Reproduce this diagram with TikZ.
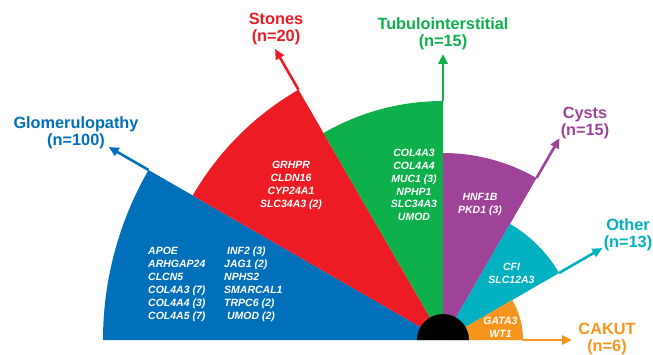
\documentclass[tikz,border=0pt]{standalone}
\usepackage{fontspec}
\setmainfont{Liberation Sans}
\usetikzlibrary{arrows.meta,calc}
\definecolor{cglom}{HTML}{0070BA}
\definecolor{cstone}{HTML}{ED1C24}
\definecolor{ctub}{HTML}{0DB04B}
\definecolor{ccyst}{HTML}{9E4398}
\definecolor{cother}{HTML}{00B1C1}
\definecolor{ccakut}{HTML}{F7941E}
\begin{document}
\begin{tikzpicture}[x=1pt,y=1pt,
  arr/.style={line width=2.6pt,-{Triangle[length=10pt,width=9pt]}},
  cat/.style={font=\fontsize{16.3}{17}\selectfont\bfseries,align=center,inner sep=0pt},
  genes/.style={font=\fontsize{10.5}{12.9}\selectfont\bfseries\itshape,text=white,inner sep=0pt}]
\useasboundingbox (0,0) rectangle (653,354);
\coordinate (C) at (443,14);
% sectors
\fill[cglom]  (C) -- ($(C)+(180:340pt)$) arc[start angle=180,end angle=150,radius=340pt] -- cycle;
\fill[cstone] (C) -- ($(C)+(150:289pt)$) arc[start angle=150,end angle=120,radius=289pt] -- cycle;
\fill[ctub]   (C) -- ($(C)+(120:239pt)$) arc[start angle=120,end angle=90,radius=239pt] -- cycle;
\fill[ccyst]  (C) -- ($(C)+(90:187pt)$) arc[start angle=90,end angle=60,radius=187pt] -- cycle;
\fill[cother] (C) -- ($(C)+(60:134pt)$) arc[start angle=60,end angle=30,radius=134pt] -- cycle;
\fill[ccakut] (C) -- ($(C)+(30:80pt)$) arc[start angle=30,end angle=0,radius=80pt] -- cycle;
\fill[black]  ($(C)+(0:26pt)$) arc[start angle=0,end angle=180,radius=26pt] -- cycle;
% corners and tips
\coordinate (gE) at ($(C)+(150:340pt)$); \coordinate (gT) at ($(C)+(150:386pt)$);
\coordinate (sE) at ($(C)+(120:289pt)$); \coordinate (sT) at ($(C)+(120:336pt)$);
\coordinate (tE) at ($(C)+(90:239pt)$);  \coordinate (tT) at ($(C)+(90:286pt)$);
\coordinate (cE) at ($(C)+(60:187pt)$);  \coordinate (cT) at ($(C)+(60:233pt)$);
\coordinate (oE) at ($(C)+(30:134pt)$);  \coordinate (oT) at ($(C)+(30:184pt)$);
\coordinate (kE) at ($(C)+(0:79pt)$);    \coordinate (kT) at ($(C)+(0:129pt)$);
\draw[arr,cglom]  (gE) -- (gT);
\draw[arr,cstone] (sE) -- (sT);
\draw[arr,ctub]   (tE) -- (tT);
\draw[arr,ccyst]  (cE) -- (cT);
\draw[arr,cother] (oE) -- (oT);
\draw[arr,ccakut] (kE) -- (kT);
% category labels
\node[cat,text=cglom]  (lg) at (76,221)  {Glomerulopathy\\(n=100)};
\node[cat,text=cstone] (ls) at (276,325) {Stones\\(n=20)};
\node[cat,text=ctub]   (lt) at (443,320) {Tubulointerstitial\\(n=15)};
\node[cat,text=ccyst]  (lc) at (585,231) {Cysts\\(n=15)};
\node[cat,text=cother] (lo) at (628,119) {Other\\(n=13)};
\node[cat,text=ccakut] (lk) at (607,15)  {CAKUT\\(n=6)};
% gene lists
\node[genes,align=left,anchor=west] (g1) at (148,69.5) {APOE\\ARHGAP24\\CLCN5\\COL4A3 (7)\\COL4A4 (3)\\COL4A5 (7)};
\node[genes,align=left,anchor=west] (g2) at (224,69.5) {\ INF2 (3)\\JAG1 (2)\\NPHS2\\SMARCAL1\\TRPC6 (2)\\\ UMOD (2)};
\node[genes,align=center] (g3) at (291,168.5) {GRHPR\\CLDN16\\CYP24A1\\SLC34A3 (2)};
\node[genes,align=center] (g4) at (414,169) {COL4A3\\COL4A4\\MUC1 (3)\\NPHP1\\SLC34A3\\UMOD};
\node[genes,align=center] (g5) at (480,149.5) {HNF1B\\PKD1 (3)};
\node[genes,align=center] (g6) at (511.5,80.5) {CFI\\SLC12A3};
\node[genes,align=center] (g7) at (500.5,26.5) {GATA3\\WT1};
\end{tikzpicture}
\end{document}
